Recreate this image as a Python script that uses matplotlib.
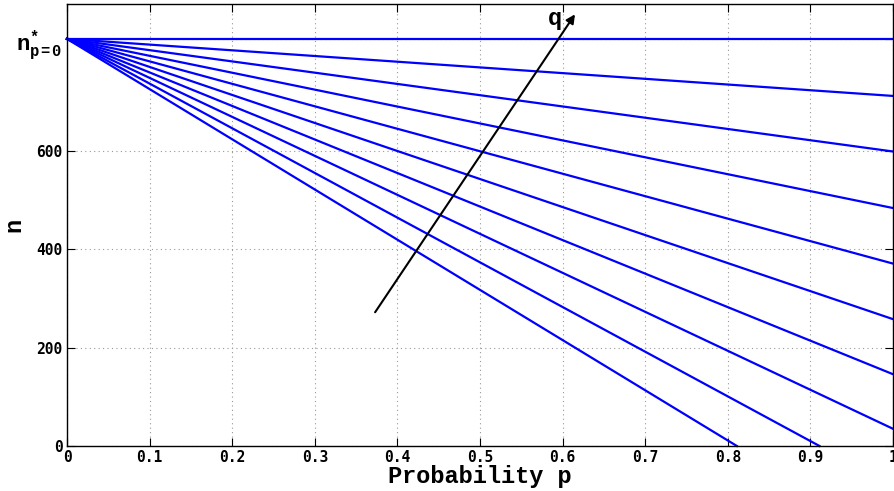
import matplotlib
matplotlib.use("Agg")
import matplotlib.pyplot as plt

# value of n at p = 0 (common start of all curves)
n_start = 828
# end point of each curve: probability p where it ends and n there
p_end = [1.0, 1.0, 1.0, 1.0, 1.0, 1.0, 1.0, 1.0, 0.911, 0.811]
n_end = [828, 712, 599, 484, 371, 258, 146, 35, 0, 0]

x_ticks = [0, 0.1, 0.2, 0.3, 0.4, 0.5, 0.6, 0.7, 0.8, 0.9, 1]
x_tick_labels = ["0", "0.1", "0.2", "0.3", "0.4", "0.5", "0.6", "0.7", "0.8", "0.9", "1"]
y_ticks = [0, 200, 400, 600, 828]
y_tick_labels = ["0", "200", "400", "600", r"$\mathbf{n^{*}_{p=0}}$"]

# arrow marking increasing q
arrow_tail = (0.373, 272)
arrow_head = (0.615, 878)
q_pos = (0.591, 869)

plt.rcParams["mathtext.fontset"] = "custom"
plt.rcParams["mathtext.bf"] = "Liberation Mono:bold"
plt.rcParams["mathtext.rm"] = "Liberation Mono:bold"
plt.rcParams["mathtext.it"] = "Liberation Mono:bold"

fig = plt.figure(figsize=(8.94, 4.91), dpi=100)
ax = fig.add_axes([67 / 894, 1 - 446 / 491, 826 / 894, 442.5 / 491])

for pe, ne in zip(p_end, n_end):
    ax.plot([0, pe], [n_start, ne], color="#0000ff", lw=1.6, clip_on=False)

ax.annotate("", xy=arrow_head, xytext=arrow_tail,
            arrowprops=dict(arrowstyle="-|>", color="black", lw=1.5,
                            mutation_scale=13, shrinkA=0, shrinkB=0))
ax.text(q_pos[0], q_pos[1], "q", fontsize=17, fontweight="bold",
        family="Liberation Mono", ha="center", va="center")

ax.set_xlim(0, 1)
ax.set_ylim(0, 900)
ax.set_xticks(x_ticks)
ax.set_xticklabels(x_tick_labels, family="DejaVu Sans Mono", fontweight="bold", fontsize=10.5)
ax.set_yticks(y_ticks)
ax.set_yticklabels(y_tick_labels, family="DejaVu Sans Mono", fontweight="bold", fontsize=10.5)
ax.get_yticklabels()[-1].set_fontsize(16)

ax.tick_params(direction="in", length=6, width=0.8, top=True, right=True, pad=3)
ax.grid(True, color="#999999", linestyle=(0, (1, 3)), lw=0.8)
for s in ax.spines.values():
    s.set_linewidth(1.0)

ax.set_xlabel("Probability p", family="Liberation Mono", fontweight="bold", fontsize=17)
ax.xaxis.set_label_coords(0.5, -0.043)
ax.set_ylabel("n", family="Liberation Mono", fontweight="bold", fontsize=17)
ax.yaxis.set_label_coords(-0.05, 0.5)

fig.savefig("out.png", dpi=100)
